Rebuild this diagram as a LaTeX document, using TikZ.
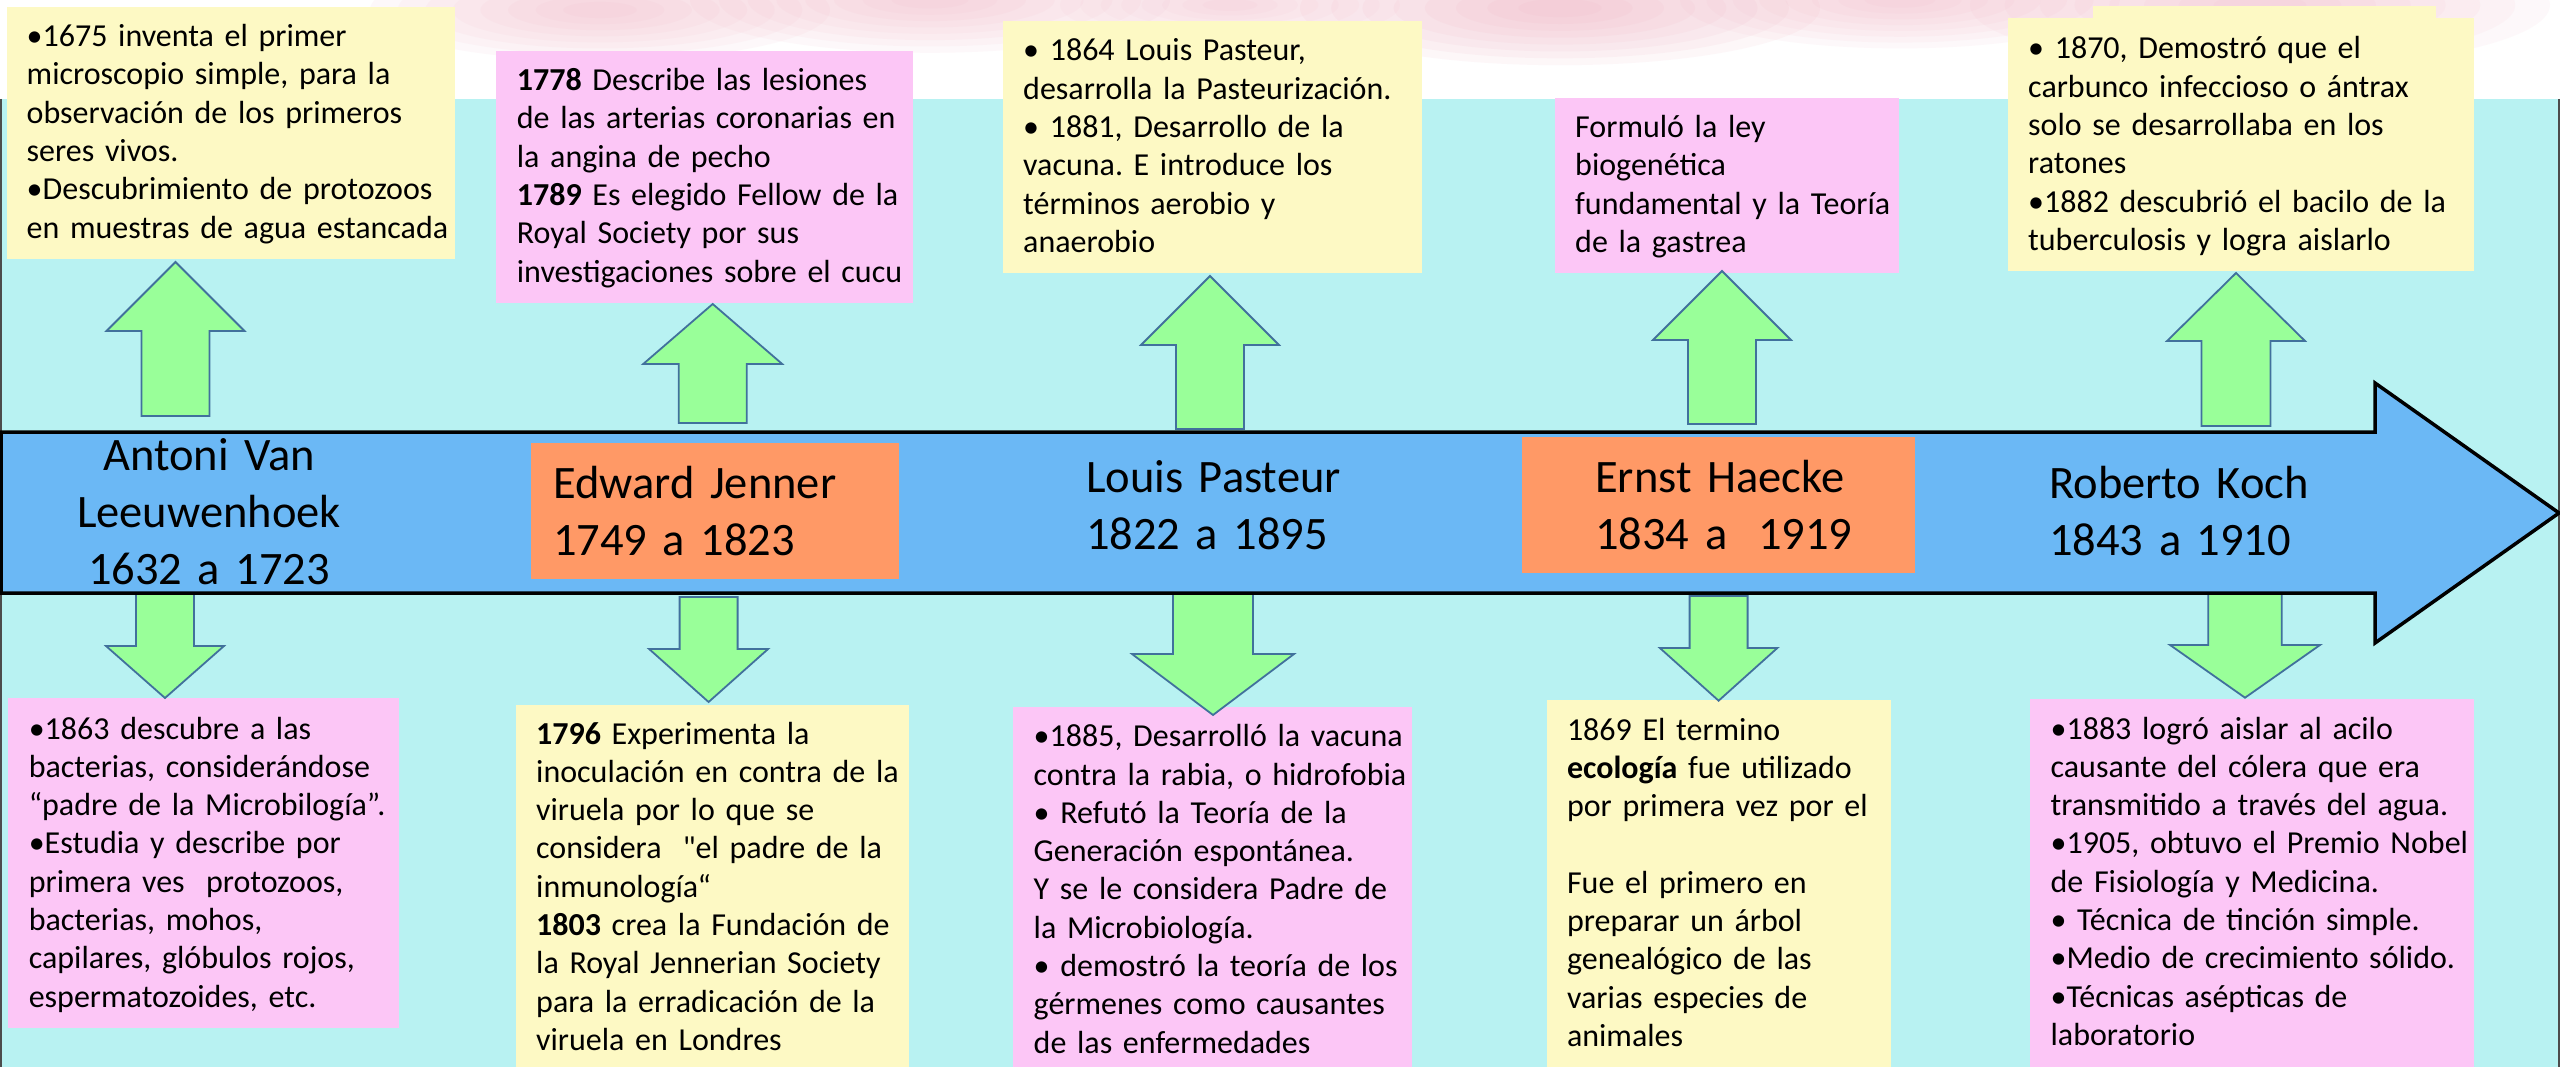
\documentclass[tikz,border=0pt]{standalone}
\usepackage{fontspec}
\setmainfont{Carlito}[Ligatures=TeXOff]
\definecolor{bgcyan}{HTML}{B8F2F2}
\definecolor{boxyellow}{HTML}{FDF9C4}
\definecolor{boxpink}{HTML}{FCC6F6}
\definecolor{boxorange}{HTML}{FF9966}
\definecolor{lineblue}{HTML}{6BB8F5}
\definecolor{arrowgreen}{HTML}{99FF99}
\definecolor{arrowedge}{HTML}{41719C}
\definecolor{cloudpink}{HTML}{EFA9BB}
\newcommand\GreenArr[6]{%
  \draw[garrow] (#1,#2) -- ({#1+#5},#3) -- ({#1+#6},#3) -- ({#1+#6},#4)
    -- ({#1-#6},#4) -- ({#1-#6},#3) -- ({#1-#5},#3) -- cycle;}
\newcommand\CloudBlob[4]{%
  \foreach \s in {1,0.88,0.76,0.64,0.52,0.40,0.28,0.16}
    \fill[cloudpink, opacity=#4] (#1,#2) ellipse ({\s*#3} and {\s*0.22*#3});}
\begin{document}
\frenchspacing
\begin{tikzpicture}[x=1pt,y=-1pt,
  ybox/.style={fill=boxyellow, draw=none, inner sep=0pt, anchor=north west},
  pbox/.style={fill=boxpink, draw=none, inner sep=0pt, anchor=north west},
  obox/.style={fill=boxorange, draw=none, inner sep=0pt, anchor=north west},
  garrow/.style={fill=arrowgreen, draw=arrowedge, line width=1.8pt, line join=miter},
  boxtext/.style={anchor=base west, inner sep=0pt, text width=520pt, align=left,
    font=\fontsize{32}{38.3}\selectfont},
  nametext/.style={anchor=base west, inner sep=0pt, text width=420pt, align=left,
    font=\fontsize{46.5}{57.5}\selectfont},
  nametextc/.style={anchor=base, inner sep=0pt, text width=420pt, align=center,
    font=\fontsize{46.5}{57}\selectfont},
  timeline/.style={fill=lineblue, draw=black, line width=3.5pt, line join=miter}
]
\useasboundingbox (0,0) rectangle (2560,1067);
\fill[white] (0,0) rectangle (2560,1067);
% soft pink clouds at the top
\CloudBlob{600}{10}{230}{0.07}
\CloudBlob{930}{0}{240}{0.07}
\CloudBlob{1230}{5}{170}{0.06}
\CloudBlob{1560}{8}{260}{0.09}
\CloudBlob{1900}{0}{220}{0.07}
\CloudBlob{2260}{5}{290}{0.07}
% cyan background
\fill[bgcyan] (0,99) rectangle (2560,1067);
\draw[black!70, line width=2pt] (1,99) -- (1,1067);
\draw[black!70, line width=2pt] (2559,99) -- (2559,1067);

% top boxes
\node[ybox, minimum width=448pt, minimum height=252pt] (t1) at (7,7) {};
\node[pbox, minimum width=417pt, minimum height=252pt] (t2) at (496,51) {};
\node[ybox, minimum width=419pt, minimum height=252pt] (t3) at (1003,21) {};
\node[pbox, minimum width=344pt, minimum height=175pt] (t4) at (1555,98) {};
\node[ybox, minimum width=343pt, minimum height=14pt] (t5tab) at (2093,6) {};
\node[ybox, minimum width=466pt, minimum height=253pt] (t5) at (2008,18) {};

% bottom boxes
\node[pbox, minimum width=391pt, minimum height=330pt] (b1) at (8,698) {};
\node[ybox, minimum width=393pt, minimum height=362pt] (b2) at (515.5,705) {};
\node[pbox, minimum width=399pt, minimum height=360pt] (b3) at (1013,707) {};
\node[ybox, minimum width=344pt, minimum height=367pt] (b4) at (1547,700) {};
\node[pbox, minimum width=444pt, minimum height=368pt] (b5) at (2030,699) {};

% top texts
\node[boxtext] (t1txt) at (26.5,46.7) {•1675 inventa el primer\\
microscopio simple, para la\\
observación de los primeros\\
seres vivos.\\
•Descubrimiento de protozoos\\
en muestras de agua estancada};
\node[boxtext] (t2txt) at (516.7,90.7) {\textbf{1778} Describe las lesiones\\
de las arterias coronarias en\\
la angina de pecho\\
\textbf{1789} Es elegido Fellow de la\\
Royal Society por sus\\
investigaciones sobre el cucu};
\node[boxtext] (t3txt) at (1023,61) {• 1864 Louis Pasteur,\\
desarrolla la Pasteurización.\\
• 1881, Desarrollo de la\\
vacuna. E introduce los\\
términos aerobio y\\
anaerobio};
\node[boxtext] (t4txt) at (1575,137.7) {Formuló la ley\\
biogenética\\
fundamental y la Teoría\\
de la gastrea};
\node[boxtext] (t5txt) at (2028,59) {• 1870, Demostró que el\\
carbunco infeccioso o ántrax\\
solo se desarrollaba en los\\
ratones\\
•1882 descubrió el bacilo de la\\
tuberculosis y logra aislarlo};

% bottom texts
\node[boxtext] (b1txt) at (28.6,739) {•1863 descubre a las\\
bacterias, considerándose\\
“padre de la Microbilogía”.\\
•Estudia y describe por\\
primera ves\ \ protozoos,\\
bacterias, mohos,\\
capilares, glóbulos rojos,\\
espermatozoides, etc.};
\node[boxtext] (b2txt) at (536,744) {\textbf{1796} Experimenta la\\
inoculación en contra de la\\
viruela por lo que se\\
considera\ \ "el padre de la\\
inmunología“\\
\textbf{1803} crea la Fundación de\\
la Royal Jennerian Society\\
para la erradicación de la\\
viruela en Londres};
\node[boxtext] (b3txt) at (1033.5,746.7) {•1885, Desarrolló la vacuna\\
contra la rabia, o hidrofobia\\
• Refutó la Teoría de la\\
Generación espontánea.\\
Y se le considera Padre de\\
la Microbiología.\\
• demostró la teoría de los\\
gérmenes como causantes\\
de las enfermedades};
\node[boxtext] (b4txt) at (1566.8,740) {1869 El termino\\
\textbf{ecología} fue utilizado\\
por primera vez por el\\[38.3pt]
Fue el primero en\\
preparar un árbol\\
genealógico de las\\
varias especies de\\
animales};
\node[boxtext] (b5txt) at (2050.4,739) {•1883 logró aislar al acilo\\
causante del cólera que era\\
transmitido a través del agua.\\
•1905, obtuvo el Premio Nobel\\
de Fisiología y Medicina.\\
• Técnica de tinción simple.\\
•Medio de crecimiento sólido.\\
•Técnicas asépticas de\\
laboratorio};

% green block arrows: up
\GreenArr{175.5}{262}{331}{416}{69}{34}
\GreenArr{712.7}{304}{364}{423}{69.5}{34}
\GreenArr{1210}{276}{345}{429}{69}{34}
\GreenArr{1722}{271}{340}{424}{69}{34}
\GreenArr{2236}{273}{341}{426}{69}{34.5}
% green block arrows: down
\GreenArr{165}{698}{646}{594}{59}{29}
\GreenArr{708.6}{702}{649}{597}{59.5}{29}
\GreenArr{1213}{715}{654}{594}{81}{40}
\GreenArr{1718.6}{700.7}{648}{596}{58.75}{29}
\GreenArr{2245}{697.7}{645}{594}{75}{36.75}

% timeline arrow
\draw[timeline] (1,432) -- (2375,432) -- (2375,383) -- (2559,513) -- (2375,643)
  -- (2375,593) -- (1,593) -- cycle;
\node[obox, minimum width=368pt, minimum height=136pt] (o2) at (531,443) {};
\node[obox, minimum width=393pt, minimum height=136pt] (o4) at (1522,437) {};

% names
\node[nametextc] (n1) at (209,470) {Antoni Van\\Leeuwenhoek\\1632 a 1723};
\node[nametext] (n2) at (553,498) {Edward Jenner\\1749 a 1823};
\node[nametext] (n3) at (1086,492) {Louis Pasteur\\1822 a 1895};
\node[nametext] (n4) at (1595,492) {Ernst Haecke\\1834 a\ \ 1919};
\node[nametext] (n5) at (2049,498) {Roberto Koch\\1843 a 1910};
\end{tikzpicture}
\end{document}
